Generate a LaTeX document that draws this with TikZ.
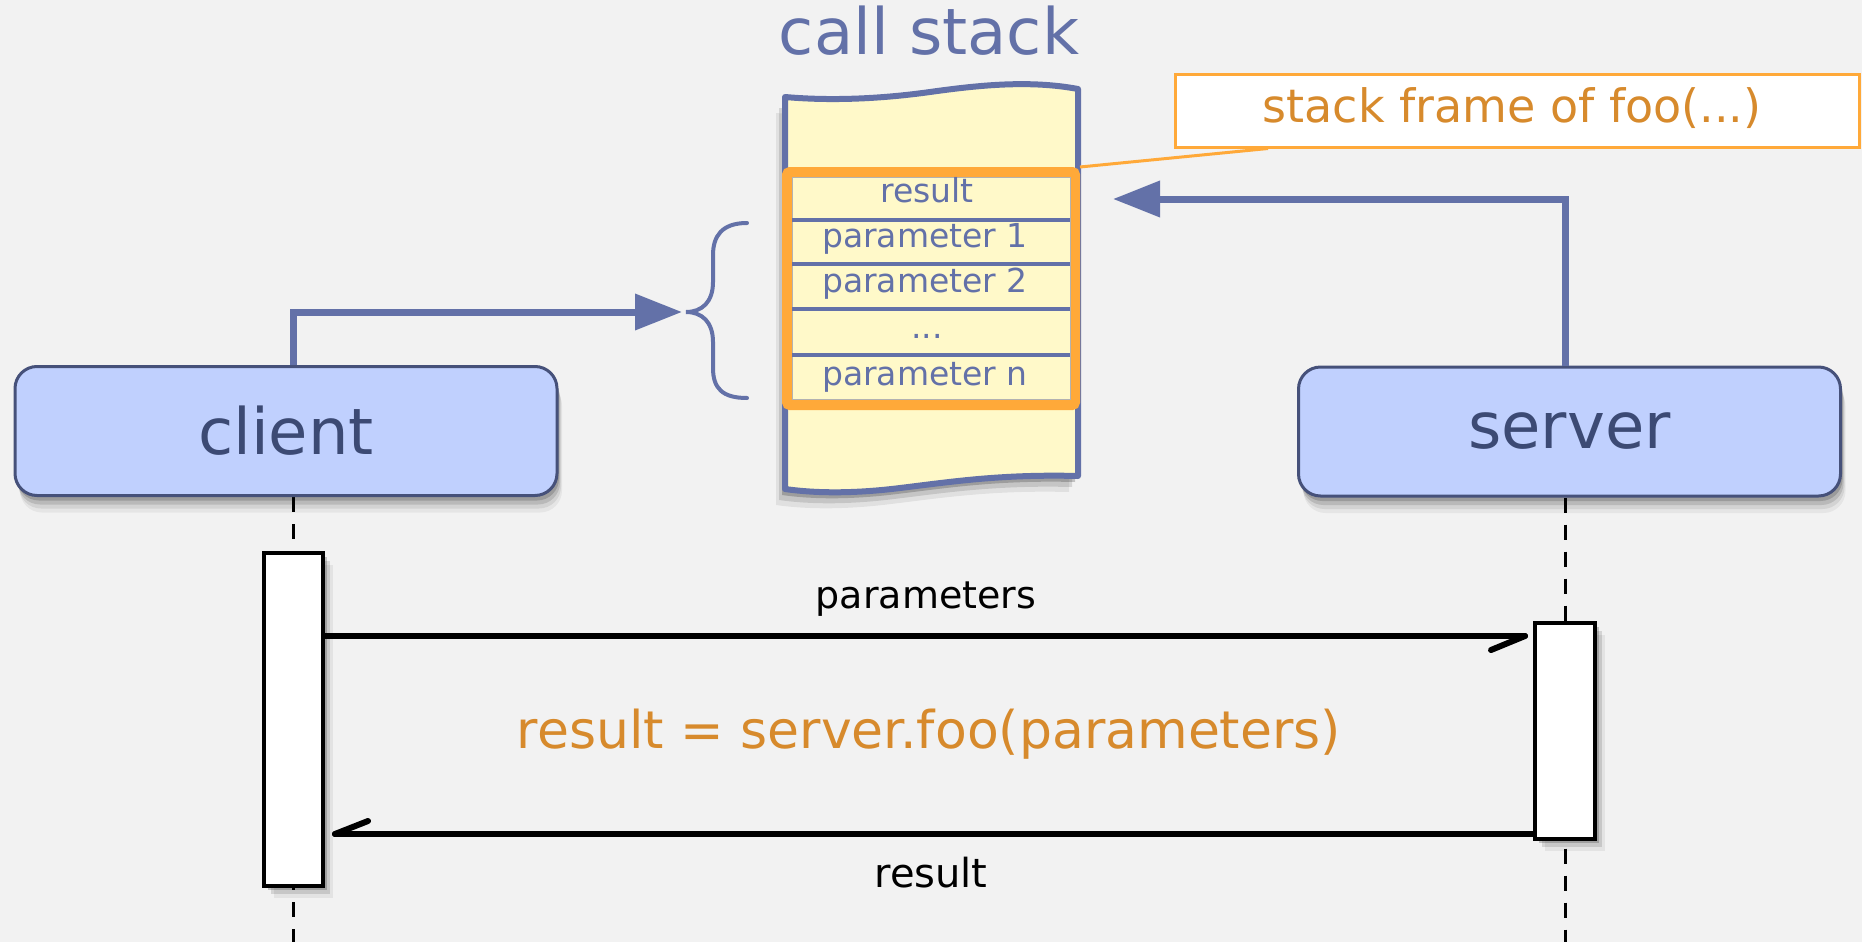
\documentclass[tikz,border=0pt]{standalone}
\usepackage{fontspec}
\setmainfont{DejaVu Sans}
\usetikzlibrary{arrows.meta,shadows,calc}
\definecolor{bgc}{HTML}{F2F2F2}
\definecolor{bluec}{HTML}{6371A8}
\definecolor{paperc}{HTML}{FFF9C9}
\definecolor{orangec}{HTML}{FFA939}
\definecolor{orangetext}{HTML}{D78A2C}
\definecolor{boxfill}{HTML}{C0D0FE}
\definecolor{boxdraw}{HTML}{46517A}
\definecolor{boxtext}{HTML}{3C4A74}
\newcommand{\myfs}[1]{\fontsize{#1pt}{#1pt}\selectfont}
\pgfdeclarelayer{background}
\pgfsetlayers{background,main}
\begin{document}
\begin{tikzpicture}[x=1pt,y=-1pt,
  softshadow/.style={drop shadow={shadow xshift=2pt,shadow yshift=-5pt,opacity=0.16,fill=black},
                     drop shadow={shadow xshift=3pt,shadow yshift=-9pt,opacity=0.12,fill=black},
                     drop shadow={shadow xshift=4pt,shadow yshift=-13pt,opacity=0.08,fill=black},
                     drop shadow={shadow xshift=5pt,shadow yshift=-17pt,opacity=0.05,fill=black}},
  actshadow/.style={drop shadow={shadow xshift=4pt,shadow yshift=-4pt,opacity=0.2,fill=black},
                    drop shadow={shadow xshift=7pt,shadow yshift=-8pt,opacity=0.12,fill=black},
                    drop shadow={shadow xshift=10pt,shadow yshift=-12pt,opacity=0.06,fill=black}},
  papershadow/.style={drop shadow={shadow xshift=-3pt,shadow yshift=-6pt,opacity=0.2,fill=black},
                      drop shadow={shadow xshift=-6pt,shadow yshift=-11pt,opacity=0.12,fill=black},
                      drop shadow={shadow xshift=-9pt,shadow yshift=-16pt,opacity=0.07,fill=black}},
  actor/.style={rectangle, rounded corners=22pt, draw=boxdraw, line width=3pt, fill=boxfill,
                minimum width=542pt, minimum height=129pt, text=boxtext, font=\myfs{64}, softshadow},
  act/.style={rectangle, draw=black, line width=4pt, fill=white, minimum width=59pt, inner sep=0pt, actshadow},
  lifeline/.style={draw=black, line width=3pt, dash pattern=on 15pt off 12pt},
  flow/.style={draw=bluec, line width=7pt, -{Triangle[length=47pt,width=35pt]}},
  msg/.style={draw=black, line width=6pt, line cap=round},
  lbl/.style={anchor=base, inner sep=0pt},
  rowtxt/.style={lbl, text=bluec, font=\myfs{33}},
]
\useasboundingbox (0,0) rectangle (1862,942);
\begin{pgfonlayer}{background}
  \fill[bgc] (0,0) rectangle (1862,942);
\end{pgfonlayer}

% title
\node[lbl, text=bluec, font=\myfs{64}] (title) at (929,55) {call stack};

% paper of the call stack
\draw[bluec, line width=6pt, line join=round, fill=paperc, papershadow]
  (785,97) .. controls (830,101) and (880,99) .. (930,92)
           .. controls (980,85) and (1030,80) .. (1078,89)
  -- (1078,476) .. controls (1000,474) and (950,482) .. (900,488)
           .. controls (860,493) and (820,494) .. (785,489) -- cycle;

% stack frame
\node[rectangle, draw=orangec, line width=10pt, rounded corners=3pt, minimum width=288pt,
      minimum height=233pt, inner sep=0pt] (frame) at (931,288.5) {};
\draw[gray!60, line width=1pt] (792,177) rectangle (1070,399);
\foreach \yy in {220,264,309,355} \draw[bluec, line width=3.5pt] (792,\yy) -- (1070,\yy);
\node[rowtxt] (r0) at (927,202) {result};
\node[rowtxt] (r1) at (925,247) {parameter 1};
\node[rowtxt] (r2) at (925,292) {parameter 2};
\node[rowtxt] (r3) at (927,338) {...};
\node[rowtxt] (r4) at (925,385) {parameter n};

% callout
\node[rectangle, draw=orangec, line width=3pt, fill=white, minimum width=684pt, minimum height=73pt,
      inner sep=0pt] (callout) at (1517,110.5) {};
\node[lbl, text=orangetext, font=\myfs{46}] (callouttxt) at (1512,122) {stack frame of foo(...)};
\draw[orangec, line width=3pt] (frame.north east) -- ([xshift=-249pt]callout.south);

% brace
\coordinate (bracetip) at (686,312);
\draw[bluec, line width=4pt, line cap=round]
  (747,223) .. controls (722,223) and (713,236) .. (713,255) -- (713,282)
  .. controls (713,302) and (702,312) .. (bracetip)
  .. controls (702,312) and (713,322) .. (713,342) -- (713,368)
  .. controls (713,388) and (722,398) .. (747,398);

% actors
\node[actor] (client) at (286,431) {client};
\node[actor] (server) at (1569.5,431.5) {server};

% activations
\node[act, minimum height=333pt] (cact) at (293.5,719.5) {};
\node[act, minimum width=60pt, minimum height=216pt] (sact) at (1565,731) {};

\coordinate (bottom) at (0,942);
\begin{pgfonlayer}{background}
  \draw[lifeline] (cact |- client.south) -- (cact |- bottom);
  \draw[lifeline] (sact |- server.south) -- (sact |- bottom);
\end{pgfonlayer}

% blue flows
\coordinate (stackin) at (1113,199);
\draw[flow, shorten >=4pt] (cact |- client.north) |- (bracetip);
\draw[flow] (sact |- server.north) |- (stackin);

% messages
\coordinate (ptip) at (1525,636);
\coordinate (rtip) at (335,834);
\draw[msg] (cact.east |- ptip) -- (ptip);
\draw[msg] (ptip) -- ++(-34,14);
\draw[msg] (sact.west |- rtip) -- (rtip);
\draw[msg] (rtip) -- ++(33,-13);

\node[lbl, font=\myfs{38}] (plabel) at (926,608) {parameters};
\node[lbl, font=\myfs{40}] (rlabel) at (931,887) {result};
\node[lbl, text=orangetext, font=\myfs{52}] (call) at (929,748) {result = server.foo(parameters)};
\end{tikzpicture}
\end{document}
